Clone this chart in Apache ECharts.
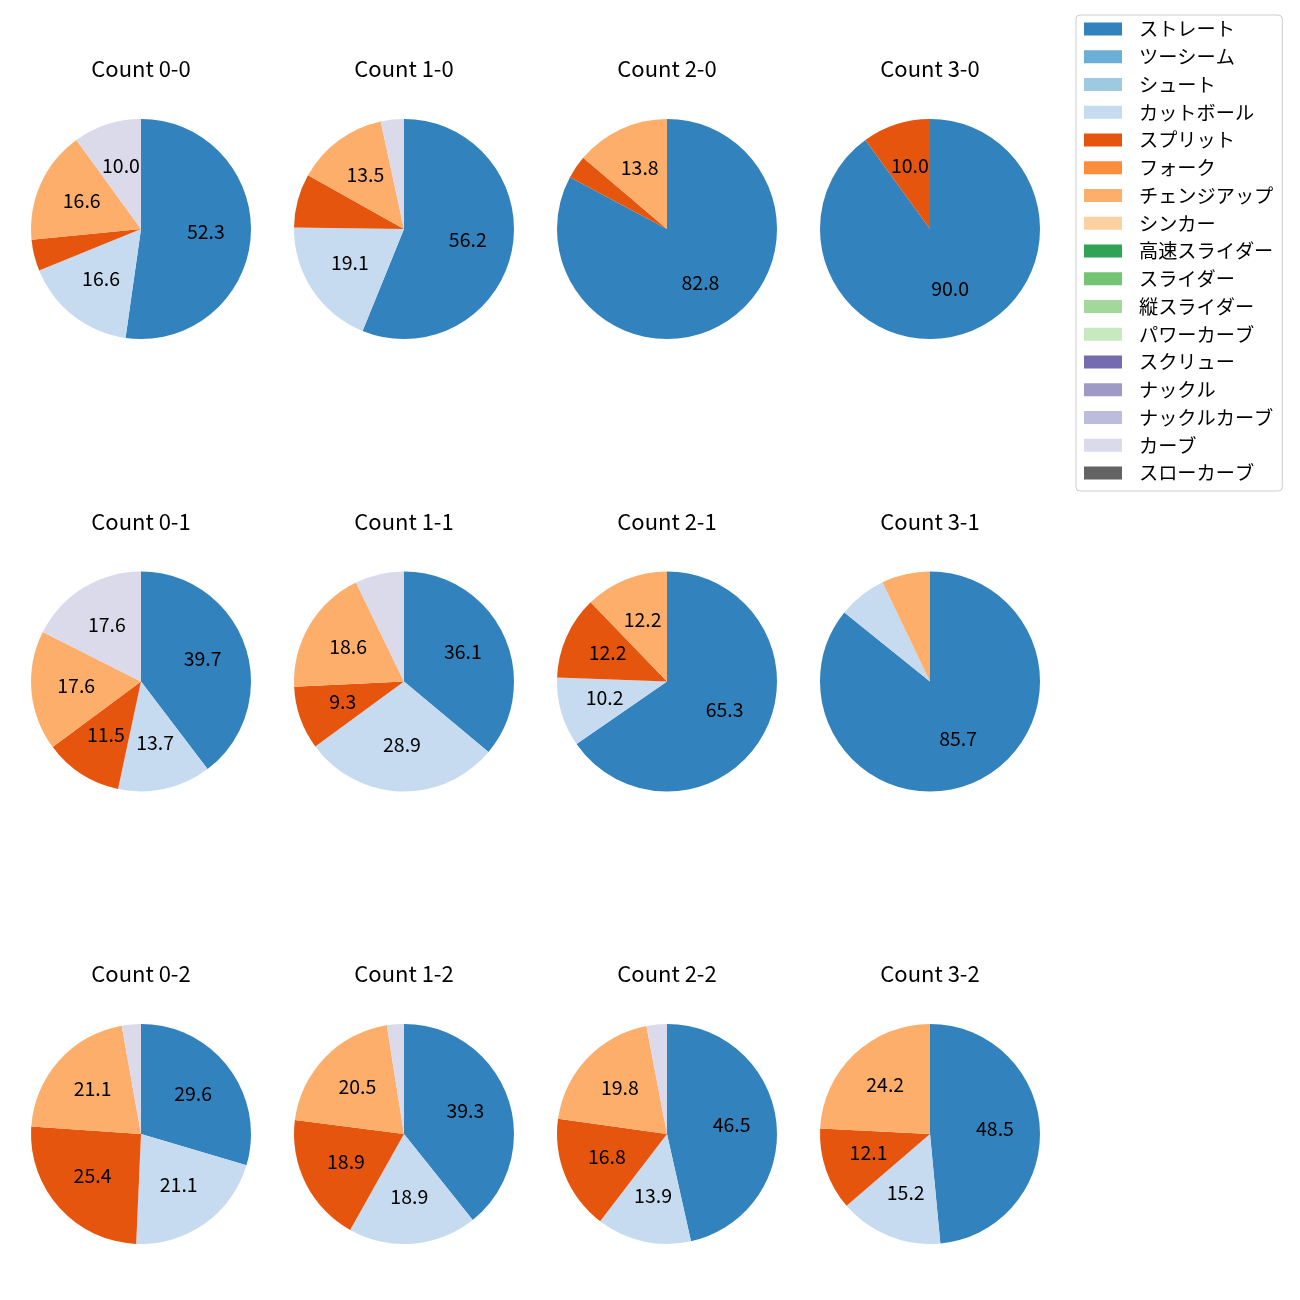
<!DOCTYPE html>
<html>
<head>
<meta charset="utf-8">
<script src="https://cdn.jsdelivr.net/npm/echarts@6/dist/echarts.min.js"></script>
<style>
html,body{margin:0;padding:0;background:#fff;}
#chart{width:1300px;height:1300px;}
</style>
</head>
<body>
<div id="chart"></div>
<script>
// Pitch types (legend order) and colours
const pitchTypes = ['ストレート','ツーシーム','シュート','カットボール','スプリット','フォーク','チェンジアップ','シンカー','高速スライダー','スライダー','縦スライダー','パワーカーブ','スクリュー','ナックル','ナックルカーブ','カーブ','スローカーブ'];
const pitchColors = ['#3182bd','#6baed6','#9ecae1','#c6dbef','#e6550d','#fd8d3c','#fdae6b','#fdd0a2','#31a354','#74c476','#a1d99b','#c7e9c0','#756bb1','#9e9ac8','#bcbddc','#dadaeb','#636363'];

// Percent shares per count, in pitchTypes order
//                 St   2S   Sh  Cut   Spl  Fk   Ch   Si  HS  Sl  VS  PC  Sc  Kn  KC  Cv   SC
const count00 = [52.3, 0, 0, 16.6, 4.6, 0, 16.6, 0, 0, 0, 0, 0, 0, 0, 0, 10.0, 0];
const count10 = [56.2, 0, 0, 19.1, 7.9, 0, 13.5, 0, 0, 0, 0, 0, 0, 0, 0, 3.4, 0];
const count20 = [82.8, 0, 0, 0, 3.4, 0, 13.8, 0, 0, 0, 0, 0, 0, 0, 0, 0, 0];
const count30 = [90.0, 0, 0, 0, 10.0, 0, 0, 0, 0, 0, 0, 0, 0, 0, 0, 0, 0];
const count01 = [39.7, 0, 0, 13.7, 11.5, 0, 17.6, 0, 0, 0, 0, 0, 0, 0, 0, 17.6, 0];
const count11 = [36.1, 0, 0, 28.9, 9.3, 0, 18.6, 0, 0, 0, 0, 0, 0, 0, 0, 7.2, 0];
const count21 = [65.3, 0, 0, 10.2, 12.2, 0, 12.2, 0, 0, 0, 0, 0, 0, 0, 0, 0, 0];
const count31 = [85.7, 0, 0, 7.1, 0, 0, 7.1, 0, 0, 0, 0, 0, 0, 0, 0, 0, 0];
const count02 = [29.6, 0, 0, 21.1, 25.4, 0, 21.1, 0, 0, 0, 0, 0, 0, 0, 0, 2.8, 0];
const count12 = [39.3, 0, 0, 18.9, 18.9, 0, 20.5, 0, 0, 0, 0, 0, 0, 0, 0, 2.5, 0];
const count22 = [46.5, 0, 0, 13.9, 16.8, 0, 19.8, 0, 0, 0, 0, 0, 0, 0, 0, 3.0, 0];
const count32 = [48.5, 0, 0, 15.2, 12.1, 0, 24.2, 0, 0, 0, 0, 0, 0, 0, 0, 0, 0];

const countTitles = ['Count 0-0','Count 1-0','Count 2-0','Count 3-0','Count 0-1','Count 1-1','Count 2-1','Count 3-1','Count 0-2','Count 1-2','Count 2-2','Count 3-2'];
const countValues = [count00,count10,count20,count30,count01,count11,count21,count31,count02,count12,count22,count32];

const labelThreshold = 8;
const FONT = '"Noto Sans CJK JP", "Noto Sans", sans-serif';

// layout
const colX = [141, 404, 667, 930];
const rowY = [229, 681.5, 1134];
const R = 110;

const chart = echarts.init(document.getElementById('chart'));
const series = [];
const overlays = [];
const graphics = [];

countValues.forEach((vals, i) => {
  const cx = colX[i % 4], cy = rowY[Math.floor(i / 4)];
  series.push({
    type: 'pie',
    name: countTitles[i],
    center: [cx, cy],
    radius: [0, R],
    startAngle: 90,
    clockwise: true,
    silent: true,
    animation: false,
    label: { show: false },
    labelLine: { show: false },
    itemStyle: { borderWidth: 0 },
    data: pitchTypes.map((n, k) => ({ name: n, value: vals[k], itemStyle: { color: pitchColors[k] } }))
  });
  // transparent ring used only to place value labels near 0.6 of the radius
  overlays.push({
    type: 'pie',
    center: [cx, cy],
    radius: [14, R],
    startAngle: 90,
    clockwise: true,
    silent: true,
    animation: false,
    itemStyle: { color: 'rgba(0,0,0,0)', borderWidth: 0 },
    labelLine: { show: false },
    label: {
      show: true,
      position: 'inside',
      offset: [0, -2],
      color: '#000',
      fontSize: 19.5,
      fontFamily: FONT,
      formatter: p => (p.value >= labelThreshold ? p.value.toFixed(1) : '')
    },
    data: vals.map(v => ({ value: v }))
  });
  graphics.push({
    type: 'text',
    x: cx,
    y: cy - 160,
    style: {
      text: countTitles[i],
      fill: '#000',
      font: '22px ' + FONT,
      textAlign: 'center',
      textVerticalAlign: 'middle'
    }
  });
});

chart.setOption({
  backgroundColor: '#fff',
  animation: false,
  legend: {
    orient: 'vertical',
    left: 1076,
    top: 15,
    data: pitchTypes,
    icon: 'rect',
    itemWidth: 38,
    itemHeight: 13,
    itemGap: 7.75,
    padding: [4, 9, 8, 8],
    borderColor: '#cccccc',
    borderWidth: 1,
    borderRadius: 4,
    backgroundColor: 'rgba(255,255,255,0.8)',
    selectedMode: false,
    textStyle: { fontSize: 19.2, lineHeight: 20, color: '#000', fontFamily: FONT, padding: [0, 0, 0, 12] }
  },
  graphic: graphics,
  series: series.concat(overlays)
});
</script>
</body>
</html>
